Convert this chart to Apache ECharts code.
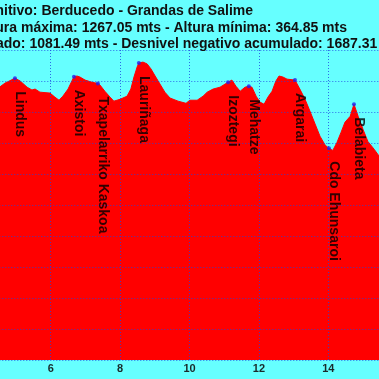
<!DOCTYPE html>
<html>
<head>
<meta charset="utf-8">
<style>html,body{margin:0;padding:0;background:#66ffff;}#c{width:379px;height:379px;}</style>
<script src="https://cdn.jsdelivr.net/npm/echarts@6/dist/echarts.min.js"></script>
</head>
<body>
<div id="c"></div>
<script>
// Title lines
const titleLines = [
  "Camino Primitivo: Berducedo - Grandas de Salime",
  "Altura máxima: 1267.05 mts - Altura mínima: 364.85 mts",
  "Desnivel positivo acumulado: 1081.49 mts - Desnivel negativo acumulado: 1687.31 mts"
];
// Profile: distance (km) and altitude (m)
const distKm = [4.50,4.68,4.97,5.12,5.32,5.46,5.55,5.69,5.98,6.12,6.24,6.35,6.50,6.67,6.76,6.84,6.99,7.19,7.36,7.42,7.56,7.71,7.82,8.00,8.20,8.31,8.40,8.49,8.54,8.66,8.78,8.89,9.01,9.15,9.29,9.44,9.67,9.90,10.01,10.22,10.39,10.51,10.68,10.88,11.11,11.22,11.34,11.46,11.60,11.71,11.80,11.92,12.03,12.15,12.26,12.38,12.49,12.58,12.69,12.81,13.04,13.18,13.33,13.47,13.62,13.76,13.91,14.02,14.13,14.25,14.37,14.48,14.63,14.74,14.86,15.00,15.14,15.32,15.50];
const altM   = [1178,1193,1209,1200,1180,1171,1174,1164,1161,1148,1138,1151,1174,1214,1216,1213,1203,1196,1192,1187,1167,1148,1135,1141,1151,1174,1213,1245,1258,1261,1255,1239,1216,1190,1164,1145,1135,1128,1138,1138,1151,1164,1174,1180,1196,1203,1183,1167,1180,1183,1180,1151,1132,1125,1148,1167,1200,1216,1213,1206,1203,1174,1141,1103,1061,1022,993,983,976,1002,1035,1067,1086,1125,1086,1044,1005,980,952];
// Named summits / passes
const peakNames = ["Lindus","Axistoi","Txapelarriko Kaskoa","Lauriñaga","Izoztegi","Mehatze","Argarai","Cdo Ehunsaroi","Belabieta"];
const peakKm    = [4.97,6.67,7.36,8.54,11.11,11.71,13.04,14.02,14.74];
const peakAlt   = [1209,1214,1192,1258,1196,1183,1203,983,1125];
// Axis ticks
const xMin = 4, xMax = 16, xStep = 2;
const yMin = 300, yMax = 1300, yStep = 100;

const profile = distKm.map((d, i) => [d, altM[i]]);
const peaks = peakNames.map((n, i) => ({ name: n, value: [peakKm[i], peakAlt[i]] }));

const chart = echarts.init(document.getElementById('c'), null, { renderer: 'canvas' });
const gridLine = { show: true, interval: 0, lineStyle: { color: 'rgba(30,70,225,0.8)', width: 1, type: [1, 2] } };
const titleY = [11, 27.7, 44.5];
const titleRight = [253, 347, 406];
chart.setOption({
  backgroundColor: '#66ffff',
  animation: false,
  graphic: titleLines.map((t, i) => ({
    type: 'text', x: titleRight[i], y: titleY[i], z: 10,
    style: { text: t, font: 'bold 14px "Liberation Sans", Arial, sans-serif', fill: '#111',
      align: 'right', verticalAlign: 'middle', textAlign: 'right', textVerticalAlign: 'middle' }
  })),
  grid: { left: -18.7, right: -18.7, top: 50, bottom: 19, containLabel: false, outerBoundsMode: 'none' },
  xAxis: {
    type: 'value', min: xMin, max: xMax, interval: xStep, z: 3,
    axisLine: { show: false }, axisTick: { show: false },
    axisLabel: { interval: 0, margin: 3, fontSize: 11, fontWeight: 'bold', color: '#1a2a2a', fontFamily: '"Liberation Sans", Arial, sans-serif' },
    splitLine: gridLine
  },
  yAxis: {
    type: 'value', min: yMin, max: yMax, interval: yStep, z: 3,
    axisLine: { show: false }, axisTick: { show: false }, axisLabel: { show: false, interval: 0 },
    splitLine: gridLine
  },
  series: [
    {
      type: 'line', data: profile, showSymbol: false, symbol: 'none', z: 2,
      lineStyle: { color: '#ff0000', width: 1 },
      areaStyle: { color: '#ff0000', opacity: 1, origin: 'start' }
    },
    {
      type: 'scatter', data: peaks, symbol: 'circle', symbolSize: 4, z: 5,
      itemStyle: { color: '#2222ee' },
      label: {
        show: true, formatter: '{b}', position: 'bottom', distance: 11, rotate: -90,
        align: 'left', verticalAlign: 'bottom', offset: [0, 2],
        fontSize: 14, fontWeight: 'bold', color: '#000', fontFamily: '"Liberation Sans", Arial, sans-serif'
      }
    }
  ]
});
</script>
</body>
</html>
